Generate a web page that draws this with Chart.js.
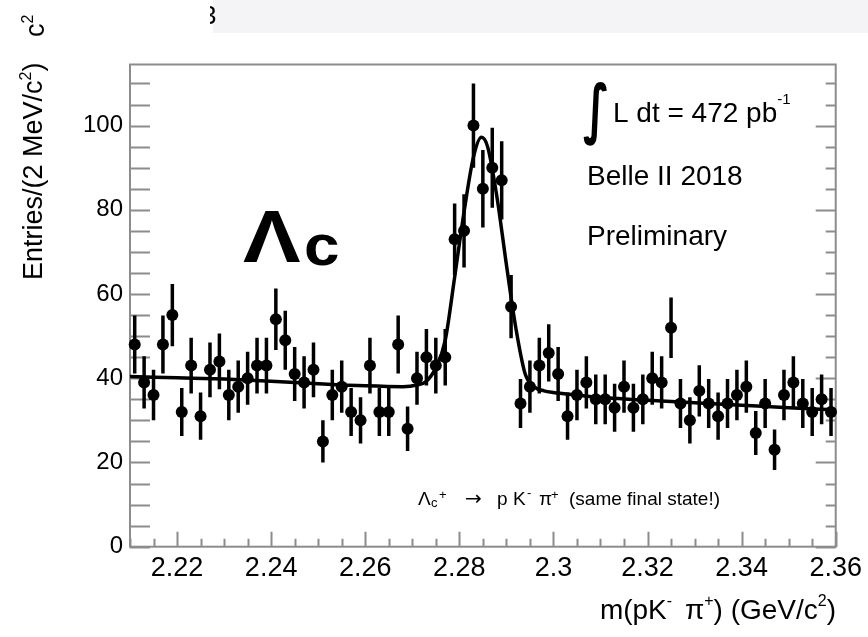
<!DOCTYPE html>
<html><head><meta charset="utf-8">
<script src="https://cdn.jsdelivr.net/npm/chart.js@4.4.1/dist/chart.umd.min.js"></script>
<style>html,body{margin:0;padding:0;background:#fff;}#wrap{width:868px;height:637px;}</style>
</head><body><div id="wrap"><canvas id="c" width="868" height="637"></canvas></div>
<script>
// ---- data ----
const massCenters = [
 2.211,2.213,2.215,2.217,2.219,2.221,2.223,2.225,2.227,2.229,
 2.231,2.233,2.235,2.237,2.239,2.241,2.243,2.245,2.247,2.249,
 2.251,2.253,2.255,2.257,2.259,2.261,2.263,2.265,2.267,2.269,
 2.271,2.273,2.275,2.277,2.279,2.281,2.283,2.285,2.287,2.289,
 2.291,2.293,2.295,2.297,2.299,2.301,2.303,2.305,2.307,2.309,
 2.311,2.313,2.315,2.317,2.319,2.321,2.323,2.325,2.327,2.329,
 2.331,2.333,2.335,2.337,2.339,2.341,2.343,2.345,2.347,2.349,
 2.351,2.353,2.355,2.357,2.359];
const entries = [
 48,39,36,48,55,32,43,31,42,44,
 36,38,40,43,43,54,49,41,39,42,
 25,36,38,32,30,43,32,32,48,28,
 40,45,43,45,73,75,100,85,90,87,
 57,34,38,43,46,41,31,36,39,35,
 35,33,38,33,35,40,39,52,34,30,
 37,34,31,34,36,38,27,34,23,36,
 39,34,32,35,32];
const entryErrors = [
 6.9,6.2,6.0,6.9,7.4,5.7,6.6,5.6,6.5,6.6,
 6.0,6.2,6.3,6.6,6.6,7.3,7.0,6.4,6.2,6.5,
 5.0,6.0,6.2,5.7,5.5,6.6,5.7,5.7,6.9,5.3,
 6.3,6.7,6.6,6.7,8.5,8.7,10.0,9.2,9.5,9.3,
 7.5,5.8,6.2,6.6,6.8,6.4,5.6,6.0,6.2,5.9,
 5.9,5.7,6.2,5.7,5.9,6.3,6.2,7.2,5.8,5.5,
 6.1,5.8,5.6,5.8,6.0,6.2,5.2,5.8,4.8,6.0,
 6.2,5.8,5.7,5.9,5.7];
const fitMass = [2.210,2.220,2.230,2.240,2.250,2.260,2.268,2.271,2.273,2.275,2.277,2.279,2.281,2.283,2.2847,2.286,2.288,2.290,2.292,2.294,2.296,2.298,2.300,2.305,2.310,2.320,2.330,2.340,2.350,2.360];
const fitValues = [40.4,40.1,39.8,39.3,38.7,38.2,38.0,38.4,39.3,42.5,49.0,64.0,79.5,92.5,97.2,95.0,83.0,67.0,52.0,41.0,37.9,37.0,36.6,36.0,35.4,34.8,34.2,33.6,33.0,32.5];
const xTickValues = [2.22,2.24,2.26,2.28,2.30,2.32,2.34,2.36];
const xTickLabels = ["2.22","2.24","2.26","2.28","2.3","2.32","2.34","2.36"];
const yTickValues = [0,20,40,60,80,100];
const yTickLabels = ["0","20","40","60","80","100"];

const FONT = '"Liberation Sans", Arial, Helvetica, sans-serif';
const X_MIN = 2.21, X_MAX = 2.36, Y_MIN = 0, Y_MAX = 114.5;

function setFont(ctx, p) {
  ctx.font = (p.bold ? 'bold ' : '') + p.size + 'px ' + (p.family || FONT);
}
function drawRich(ctx, x, y, parts, align) {
  let w = 0;
  parts.forEach(p => { setFont(ctx, p); p._w = ctx.measureText(p.t).width; w += p._w + (p.gap || 0); });
  let cx = align === 'right' ? x - w : x;
  ctx.textAlign = 'left';
  ctx.textBaseline = 'alphabetic';
  parts.forEach(p => {
    setFont(ctx, p);
    ctx.fillText(p.t, (p.x !== undefined ? p.x : cx), y + (p.dy || 0));
    cx = (p.x !== undefined ? p.x : cx) + p._w + (p.gap || 0);
  });
}

const decor = {
  id: 'decor',
  beforeDraw(chart) {
    const ctx = chart.ctx;
    ctx.save();
    ctx.fillStyle = '#ffffff';
    ctx.fillRect(0, 0, chart.width, chart.height);
    ctx.fillStyle = '#f4f4f7';
    ctx.fillRect(213, 0, chart.width - 213, 33);
    ctx.restore();
  },
  beforeDatasetsDraw(chart) {
    const ctx = chart.ctx;
    const {left, right, top, bottom} = chart.chartArea;
    const xs = chart.scales.x, ys = chart.scales.y;
    ctx.save();
    ctx.strokeStyle = '#8c8c8c';
    ctx.lineWidth = 2;
    ctx.strokeRect(left, top, right - left, bottom - top);
    ctx.beginPath();
    for (let k = 0; k * 5 <= Y_MAX; k++) {
      const v = k * 5;
      const py = Math.round(ys.getPixelForValue(v)) + 0.5;
      ctx.moveTo(left, py); ctx.lineTo(left + 20, py);
      const major = (v % 20 === 0);
      ctx.moveTo(right, py); ctx.lineTo(right - (major ? 20 : 10), py);
    }
    for (let k = 0; k <= 30; k++) {
      const m = X_MIN + 0.005 * k;
      const px = Math.round(xs.getPixelForValue(m)) + 0.5;
      const major = (k % 4 === 2);
      ctx.moveTo(px, bottom); ctx.lineTo(px, bottom - (major ? 15 : 8));
    }
    ctx.stroke();
    // error bars
    ctx.strokeStyle = '#000';
    ctx.lineWidth = 3.5;
    ctx.beginPath();
    for (let i = 0; i < entries.length; i++) {
      const px = xs.getPixelForValue(massCenters[i]);
      ctx.moveTo(px, ys.getPixelForValue(entries[i] - entryErrors[i]));
      ctx.lineTo(px, ys.getPixelForValue(entries[i] + entryErrors[i]));
    }
    ctx.stroke();
    ctx.restore();
  },
  afterDraw(chart) {
    const ctx = chart.ctx;
    ctx.save();
    ctx.fillStyle = '#000';
    // y axis title (rotated)
    ctx.save();
    ctx.translate(42, 280);
    ctx.rotate(-Math.PI / 2);
    drawRich(ctx, 0, 0, [
      {t: 'Entries/(2 MeV/c', size: 27},
      {t: '2', size: 16, dy: -11},
      {t: ')', size: 27}
    ], 'left');
    ctx.restore();
    // cut-off title of a neighbouring chart
    ctx.save();
    ctx.translate(44, 37);
    ctx.rotate(-Math.PI / 2);
    drawRich(ctx, 0, 0, [{t: 'c', size: 27}, {t: '2', size: 16, dy: -11}], 'left');
    ctx.restore();
    ctx.save();
    ctx.beginPath(); ctx.rect(210, 0, 8, 30); ctx.clip();
    ctx.font = '26px ' + FONT; ctx.textAlign = 'left';
    ctx.fillText('3', 202, 24);
    ctx.restore();
    // x axis title
    drawRich(ctx, 836, 619, [
      {t: 'm(pK', size: 28},
      {t: '-', size: 16, dy: -13, gap: 5},
      {t: ' \u03c0', size: 28},
      {t: '+', size: 16, dy: -13},
      {t: ') (GeV/c', size: 28},
      {t: '2', size: 16, dy: -13},
      {t: ')', size: 28}
    ], 'right');
    // luminosity
    ctx.save();
    ctx.translate(583, 131);
    ctx.scale(0.7, 1.05);
    ctx.font = 'bold 62px "DejaVu Sans", sans-serif';
    ctx.textAlign = 'left';
    ctx.fillText('\u222b', 0, 0);
    ctx.restore();
    drawRich(ctx, 613, 122, [
      {t: 'L dt = 472 pb', size: 28},
      {t: '-1', size: 15, dy: -18}
    ], 'left');
    drawRich(ctx, 587, 185, [{t: 'Belle II 2018', size: 28}], 'left');
    drawRich(ctx, 587, 245, [{t: 'Preliminary', size: 28}], 'left');
    // big Lambda_c label
    ctx.save();
    ctx.translate(243, 262);
    ctx.scale(1.15, 1);
    ctx.font = 'bold 75px ' + FONT;
    ctx.textAlign = 'left';
    ctx.fillText('\u039b', 0, 0);
    ctx.restore();
    ctx.save();
    ctx.translate(304, 265);
    ctx.scale(1.12, 1);
    ctx.font = 'bold 57px ' + FONT;
    ctx.textAlign = 'left';
    ctx.fillText('c', 0, 0);
    ctx.restore();
    // decay annotation
    drawRich(ctx, 418, 505, [
      {t: '\u039b', size: 19, x: 418},
      {t: 'c', size: 13, dy: 2, x: 431},
      {t: '+', size: 13, dy: -6, x: 439},
      {t: '\u2192', size: 20, family: '"DejaVu Sans", sans-serif', x: 465},
      {t: 'p', size: 19, x: 497},
      {t: 'K', size: 19, x: 513},
      {t: '-', size: 13, dy: -8, x: 527},
      {t: '\u03c0', size: 19, x: 539},
      {t: '+', size: 13, dy: -6, x: 551},
      {t: '(same final state!)', size: 19, x: 569}
    ], 'left');
    ctx.restore();
  }
};

const pointData = massCenters.map((m, i) => ({x: m, y: entries[i]}));
const fitData = fitMass.map((m, i) => ({x: m, y: fitValues[i]}));

new Chart(document.getElementById('c'), {
  type: 'scatter',
  data: {
    datasets: [
      {
        label: 'Fit', type: 'line', data: fitData,
        borderColor: '#000', borderWidth: 3.5, pointRadius: 0, fill: false,
        cubicInterpolationMode: 'monotone', order: 2
      },
      {
        label: 'Data', data: pointData,
        backgroundColor: '#000', borderColor: '#000',
        pointRadius: 6, pointBorderWidth: 0, clip: false, order: 1
      }
    ]
  },
  options: {
    responsive: false,
    animation: false,
    devicePixelRatio: 1,
    layout: {padding: {left: 0, right: 31.5, top: 64.5, bottom: 0}},
    plugins: {legend: {display: false}, tooltip: {enabled: false}},
    scales: {
      x: {
        type: 'linear', min: X_MIN, max: X_MAX,
        grid: {display: false, drawTicks: false}, border: {display: false},
        afterBuildTicks: s => { s.ticks = xTickValues.map(v => ({value: v})); },
        afterFit: s => { s.height = 90.3; },
        ticks: {
          padding: 6, autoSkip: false, maxRotation: 0, color: '#000',
          font: {family: FONT, size: 27},
          callback: (v, i) => xTickLabels[i]
        }
      },
      y: {
        type: 'linear', min: Y_MIN, max: Y_MAX,
        grid: {display: false, drawTicks: false}, border: {display: false},
        afterBuildTicks: s => { s.ticks = yTickValues.map(v => ({value: v})); },
        afterFit: s => { s.width = 130; },
        ticks: {
          padding: 7, color: '#000',
          font: {family: FONT, size: 24},
          callback: (v, i) => yTickLabels[i]
        }
      }
    }
  },
  plugins: [decor]
});
</script>
</body></html>
